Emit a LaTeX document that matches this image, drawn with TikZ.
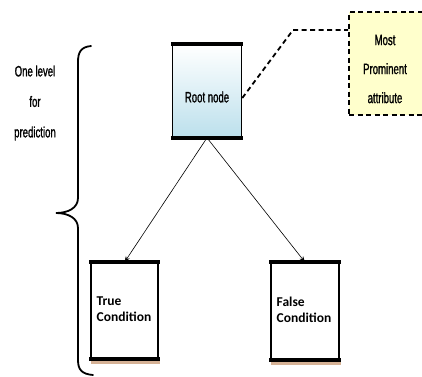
\documentclass[tikz,border=0pt]{standalone}
\usepackage{fontspec}
\setmainfont{Carlito}
\newfontfamily\narrowfont[FakeStretch=0.64,FakeBold=1.2]{Liberation Sans}
\usetikzlibrary{arrows.meta,calc}
\definecolor{rootblue}{RGB}{188,224,236}
\definecolor{noteyellow}{RGB}{255,255,204}
\definecolor{shadowtan}{RGB}{214,178,150}
\tikzset{
  box/.style={draw=black, line width=1.6pt, minimum width=#1, inner sep=0pt},
  thickedge/.style={line width=3.6pt},
  narrowtext/.style={font=\narrowfont\fontsize{15}{17}\selectfont, align=center, inner sep=0pt},
  condtext/.style={font=\bfseries\fontsize{13.5}{15.5}\selectfont, align=left, anchor=west, inner sep=0pt},
  link/.style={line width=0.6pt, -{Stealth[length=6pt,width=4.5pt]}},
  notelink/.style={line width=1.8pt, dash pattern=on 5pt off 3.5pt},
}
\begin{document}
\begin{tikzpicture}[x=1pt, y=-1pt]
\useasboundingbox (0,0) rectangle (422,376);
\clip (0,0) rectangle (422,376);

% root node with gradient fill
\node[box=69pt, minimum height=92pt, top color=white, bottom color=rootblue] (root) at (207,91) {};
\draw[thickedge] ($(root.north west)+(-0.8,0)$) -- ($(root.north east)+(0.8,0)$);
\draw[thickedge] ($(root.south west)+(-0.8,0)$) -- ($(root.south east)+(0.8,0)$);
\node[narrowtext] (rootlabel) at (207,97) {Root node};

% note box, running off the right edge
\node[draw=black, line width=1.8pt, dash pattern=on 5pt off 3.5pt, fill=noteyellow,
      minimum width=100pt, minimum height=103pt, inner sep=0pt] (note) at (399,63.5) {};
\node[narrowtext, font=\narrowfont\fontsize{15}{29}\selectfont] (notelabel) at (385,69) {Most\\Prominent\\attribute};
\coordinate (bend) at (293,30);
\draw[notelink] ($(root.east)+(0,7)$) -- (bend) -- (bend -| note.west);

% leaf boxes
\fill[shadowtan] (91,359) rectangle (160,364);
\node[box=67pt, minimum height=95pt, fill=white] (true) at (124.5,310.5) {};
\draw[thickedge] ($(true.north west)+(-0.8,0)$) -- ($(true.north east)+(0.8,0)$);
\draw[thickedge] ($(true.south west)+(-0.8,0)$) -- ($(true.south east)+(0.8,0)$);
\node[condtext] (truelabel) at (96.5,309) {True\\Condition};

\fill[shadowtan] (271,360) rectangle (341,365);
\node[box=68pt, minimum height=96pt, fill=white] (false) at (305,311) {};
\draw[thickedge] ($(false.north west)+(-0.8,0)$) -- ($(false.north east)+(0.8,0)$);
\draw[thickedge] ($(false.south west)+(-0.8,0)$) -- ($(false.south east)+(0.8,0)$);
\node[condtext] (falselabel) at (276.5,310) {False\\Condition};

% branches
\draw[link] (root.south) -- (true.north);
\draw[link] (root.south) -- (false.north);

% curly brace marking one prediction level
\draw[line width=1.8pt, line cap=round]
  (91,46) .. controls (81,47) and (78,52) .. (78,62) -- (78,198)
  .. controls (78,208) and (68,213) .. (56,213)
  .. controls (68,213) and (78,218) .. (78,228) -- (78,360)
  .. controls (78,370) and (82,374) .. (93,375);
\node[narrowtext, font=\narrowfont\fontsize{15}{30.5}\selectfont] (levellabel) at (35,103) {One level\\for\\prediction};
\end{tikzpicture}
\end{document}
